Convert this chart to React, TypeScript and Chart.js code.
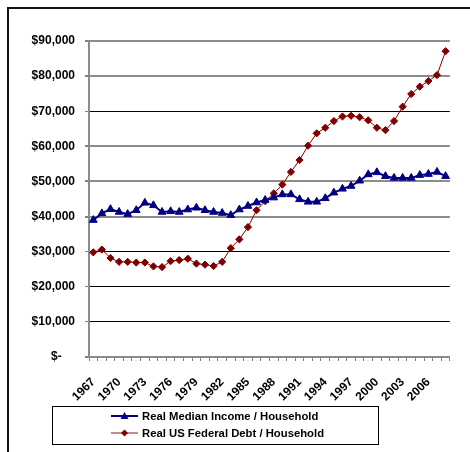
import React, { useEffect, useRef } from "react";
import { Chart, registerables } from "chart.js";

Chart.register(...registerables);

const years: string[] = [
  "1967", "1968", "1969", "1970", "1971", "1972", "1973", "1974", "1975", "1976",
  "1977", "1978", "1979", "1980", "1981", "1982", "1983", "1984", "1985", "1986",
  "1987", "1988", "1989", "1990", "1991", "1992", "1993", "1994", "1995", "1996",
  "1997", "1998", "1999", "2000", "2001", "2002", "2003", "2004", "2005", "2006",
  "2007", "2008",
];

const medianIncome: number[] = [
  39000, 40900, 42100, 41300, 40700, 41800, 43900, 43200, 41300, 41500,
  41300, 42000, 42500, 41800, 41300, 41000, 40400, 42000, 43000, 44000,
  44700, 45400, 46300, 46300, 44900, 44200, 44200, 45200, 46800, 47900,
  48700, 50200, 52000, 52600, 51500, 51000, 51000, 51000, 51800, 52100,
  52700, 51500,
];

const federalDebt: number[] = [
  29800, 30600, 28200, 27100, 27100, 26900, 26900, 25800, 25600, 27300,
  27600, 28000, 26600, 26300, 25900, 27100, 31000, 33500, 37000, 41800,
  44400, 46600, 49100, 52700, 56100, 60200, 63700, 65300, 67200, 68500,
  68700, 68300, 67400, 65300, 64600, 67200, 71300, 74900, 77000, 78600,
  80300, 87100,
];

const seriesNames: string[] = [
  "Real Median Income / Household",
  "Real US Federal Debt / Household",
];

const NAVY = "#000080";
const MAROON = "#800000";
const FAMILY = "'Liberation Sans', Arial, sans-serif";
const darkGridValues = [70000, 30000, 20000, 10000];

function dollars(v: number): string {
  if (v === 0) return "$-    ";
  return "$" + v.toLocaleString("en-US");
}

// Page frame plus the boxed legend under the axis.
const framePlugin = {
  id: "frameAndLegend",
  beforeDraw(chart: Chart) {
    const ctx = chart.ctx;
    ctx.save();
    ctx.fillStyle = "#ffffff";
    ctx.fillRect(0, 0, chart.width, chart.height);
    ctx.strokeStyle = "#111111";
    ctx.lineWidth = 2;
    ctx.beginPath();
    ctx.moveTo(8, chart.height);
    ctx.lineTo(8, 8);
    ctx.lineTo(chart.width, 8);
    ctx.stroke();
    ctx.restore();
  },
  afterDraw(chart: Chart) {
    const ctx = chart.ctx;
    ctx.save();
    ctx.strokeStyle = "#000000";
    ctx.lineWidth = 1;
    ctx.strokeRect(52.5, 406.5, 326, 38);

    const rows = [416, 433];
    chart.data.datasets.forEach((ds: any, i: number) => {
      const y = rows[i];
      ctx.strokeStyle = ds.borderColor;
      ctx.lineWidth = i === 0 ? 2 : 1.5;
      ctx.globalAlpha = i === 0 ? 1 : 0.6;
      ctx.beginPath();
      ctx.moveTo(111, y);
      ctx.lineTo(138, y);
      ctx.stroke();
      ctx.globalAlpha = 1;
      ctx.fillStyle = ds.backgroundColor;
      ctx.beginPath();
      if (i === 0) {
        ctx.moveTo(124.5, y - 4);
        ctx.lineTo(128.5, y + 3);
        ctx.lineTo(120.5, y + 3);
      } else {
        ctx.moveTo(124.5, y - 3.5);
        ctx.lineTo(128, y);
        ctx.lineTo(124.5, y + 3.5);
        ctx.lineTo(121, y);
      }
      ctx.closePath();
      ctx.fill();
      ctx.fillStyle = "#000000";
      ctx.font = `bold 11.3px ${FAMILY}`;
      ctx.textAlign = "left";
      ctx.textBaseline = "middle";
      ctx.fillText(ds.label, 142, y + 0.5);
    });
    ctx.restore();
  },
};

export default function App() {
  const canvasRef = useRef<HTMLCanvasElement | null>(null);

  useEffect(() => {
    if (!canvasRef.current) return;
    const chart = new Chart(canvasRef.current, {
      type: "line",
      data: {
        labels: years,
        datasets: [
          {
            label: seriesNames[0],
            data: medianIncome,
            borderColor: NAVY,
            backgroundColor: NAVY,
            borderWidth: 2,
            pointStyle: "triangle",
            pointRadius: 4.5,
            pointBorderWidth: 1,
            tension: 0,
          },
          {
            label: seriesNames[1],
            data: federalDebt,
            borderColor: MAROON,
            backgroundColor: MAROON,
            borderWidth: 1,
            pointStyle: "rectRot",
            pointRadius: 3.6,
            pointBorderWidth: 1,
            tension: 0,
          },
        ],
      },
      options: {
        animation: false,
        responsive: false,
        devicePixelRatio: 1,
        layout: { padding: { left: 8, top: 41, right: 19, bottom: 45 } },
        plugins: {
          legend: { display: false },
          tooltip: { enabled: false },
        },
        scales: {
          x: {
            type: "category",
            offset: true,
            afterFit: (scale: any) => {
              scale.height = 50;
            },
            grid: {
              offset: true,
              drawOnChartArea: false,
              drawTicks: true,
              tickLength: 4,
              color: "#808080",
            },
            border: { color: "#8c8c8c", width: 2 },
            ticks: {
              autoSkip: false,
              maxRotation: 45,
              minRotation: 45,
              padding: 14,
              color: "#000000",
              font: { family: FAMILY, size: 12, weight: "bold" },
              callback: (_v: any, i: number) => (i % 3 === 0 ? years[i] : ""),
            },
          },
          y: {
            min: 0,
            max: 90000,
            afterFit: (scale: any) => {
              scale.width = 81;
            },
            grid: {
              drawTicks: true,
              tickLength: 4,
              tickColor: "#808080",
              color: (c: any) =>
                darkGridValues.includes(c.tick?.value) ? "#000000" : "#8c8c8c",
              lineWidth: (c: any) =>
                darkGridValues.includes(c.tick?.value) ? 1 : 2,
            },
            border: { color: "#8c8c8c", width: 2 },
            ticks: {
              stepSize: 10000,
              padding: 10,
              color: "#000000",
              font: { family: FAMILY, size: 12, weight: "bold" },
              callback: (v: any) => dollars(Number(v)),
            },
          },
        },
      },
      plugins: [framePlugin],
    });
    return () => chart.destroy();
  }, []);

  return (
    <div style={{ position: "absolute", left: 0, top: 0, width: 470, height: 452 }}>
      <canvas ref={canvasRef} width={470} height={452} style={{ display: "block", width: 470, height: 452 }} />
    </div>
  );
}
